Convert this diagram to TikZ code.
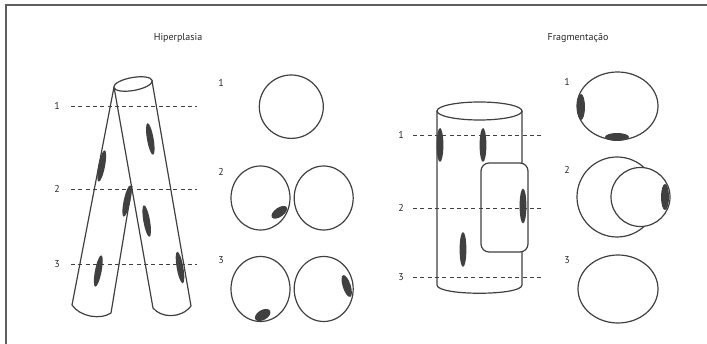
\documentclass[tikz,border=0pt]{standalone}
\usepackage{fontspec}
\setmainfont{PT Sans}
\definecolor{ink}{RGB}{64,64,64}
\definecolor{txt}{RGB}{40,40,40}
\definecolor{rule}{RGB}{95,95,95}
\begin{document}
\begin{tikzpicture}[x=1pt,y=-1pt,
  outline/.style={draw=ink, line width=1.2pt},
  cut/.style={draw=ink, line width=0.8pt, dash pattern=on 4pt off 3.3pt},
  spot/.style={fill=ink},
  lbl/.style={text=txt, font=\fontsize{10}{12}\selectfont, inner sep=0pt},
  frameline/.style={draw=rule, line width=2pt},
]
\useasboundingbox (0,0) rectangle (707,344);

% panel frame (top and left edges)
\draw[frameline] (707,5) -- (6,5) -- (6,344);

% ---------- Hiperplasia ----------
\node[lbl] (titleH) at (178,38) {Hiperplasia};

% left leg (behind)
\draw[outline] (114,87) -- (72,305) .. controls (80,317) and (101,320) .. (111,313) -- (132,186);
% right tube (front)
\draw[outline] (114,87) -- (153,308) .. controls (161,318) and (181,319) .. (191,306) -- (152,81);
% tube mouth
\draw[outline, fill=white] (133,84) ellipse [x radius=19.5pt, y radius=6.5pt, rotate=10];

% spots on the tubes
\fill[spot] (150.3,139) ellipse [x radius=3.3pt, y radius=16pt, rotate=10];
\fill[spot] (101.7,166) ellipse [x radius=3.3pt, y radius=16pt, rotate=-11];
\fill[spot] (127,201)   ellipse [x radius=3.3pt, y radius=16pt, rotate=-12];
\fill[spot] (146.7,221) ellipse [x radius=3.3pt, y radius=16pt, rotate=10];
\fill[spot] (98.3,271)  ellipse [x radius=3.3pt, y radius=16pt, rotate=-11];
\fill[spot] (180,267.5) ellipse [x radius=3.3pt, y radius=16pt, rotate=10];

% section lines
\draw[cut] (71,106) -- (197,106);
\draw[cut] (71,189) -- (197,189);
\draw[cut] (71,264) -- (197,264);
\node[lbl] (h1) at (57,106) {1};
\node[lbl] (h2) at (57,189) {2};
\node[lbl] (h3) at (57,264) {3};

% cross sections
\node[lbl] (hs1) at (221,83) {1};
\node[lbl] (hs2) at (221,172) {2};
\node[lbl] (hs3) at (221,260) {3};
\draw[outline] (291.3,106.7) ellipse [x radius=32pt, y radius=31.7pt];
\draw[outline] (260.5,198) ellipse [x radius=29.5pt, y radius=32pt];
\draw[outline] (323.7,198) ellipse [x radius=29.5pt, y radius=32pt];
\draw[outline] (260.5,289) ellipse [x radius=29.5pt, y radius=32.5pt];
\draw[outline] (323.7,289) ellipse [x radius=29.5pt, y radius=32.5pt];
\fill[spot] (279.3,212.3) ellipse [x radius=9pt, y radius=4.6pt, rotate=35];
\fill[spot] (262.7,315)   ellipse [x radius=8.5pt, y radius=5pt, rotate=30];
\fill[spot] (346.7,286)   ellipse [x radius=4pt, y radius=11.4pt, rotate=18];

% ---------- Fragmentacao ----------
\node[lbl] (titleF) at (578,38) {Fragmentação};

% cylinder
\draw[outline] (437,111) -- (437,285) .. controls (437,296) and (522,296) .. (522,285) -- (522,111);
\draw[outline] (479.5,111) ellipse [x radius=42.5pt, y radius=9pt];
% detached fragment
\draw[outline, fill=white, rounded corners=8pt] (481,163) rectangle (528,252);

% spots
\fill[spot] (440,145)   ellipse [x radius=3.4pt, y radius=17pt];
\fill[spot] (483,145)   ellipse [x radius=3.4pt, y radius=17pt];
\fill[spot] (523,206)   ellipse [x radius=3.4pt, y radius=17.5pt];
\fill[spot] (463,249.5) ellipse [x radius=3.4pt, y radius=17.5pt];

% section lines
\draw[cut] (413,135) -- (543,135);
\draw[cut] (413,208) -- (543,208);
\draw[cut] (413,277) -- (543,277);
\node[lbl] (f1) at (401,135) {1};
\node[lbl] (f2) at (401,208) {2};
\node[lbl] (f3) at (401,277) {3};

% cross sections
\node[lbl] (fs1) at (567,82) {1};
\node[lbl] (fs2) at (567,170) {2};
\node[lbl] (fs3) at (567,260) {3};
\draw[outline] (617.5,106) ellipse [x radius=40.5pt, y radius=34pt];
\fill[spot] (581,107) ellipse [x radius=4pt, y radius=13pt];
\fill[spot] (617,137) ellipse [x radius=12pt, y radius=4pt];
\draw[outline] (617,197) circle [radius=40pt];
\draw[outline, fill=white] (640.5,197) circle [radius=29.5pt];
\fill[spot] (665,197) ellipse [x radius=4pt, y radius=13pt];
\draw[outline] (618,289) ellipse [x radius=40pt, y radius=34pt];
\end{tikzpicture}
\end{document}
